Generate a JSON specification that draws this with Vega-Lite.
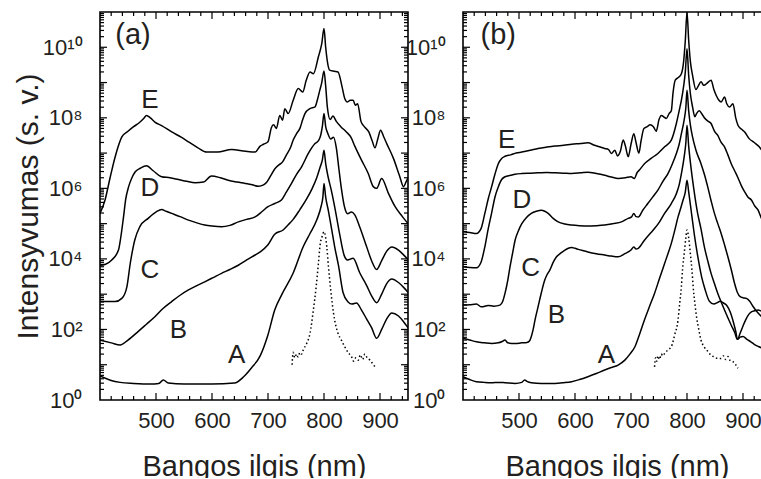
{
"$schema": "https://vega.github.io/schema/vega-lite/v6.json",
"background": "white",
"padding": {"left": 12, "top": 11, "right": -6, "bottom": -4},
"bounds": "flush",
"spacing": 55,
"config": {
 "font": "Liberation Sans",
 "view": {"stroke": "#000", "strokeWidth": 1.6},
 "axis": {"domain": false, "grid": false, "ticks": false, "labelColor": "#231f20", "titleColor": "#231f20", "labelFont": "Liberation Sans", "titleFont": "Liberation Sans"}
},
"datasets": {
"xt": [{"x":420},{"x":440},{"x":460},{"x":480},{"x":500},{"x":520},{"x":540},{"x":560},{"x":580},{"x":600},{"x":620},{"x":640},{"x":660},{"x":680},{"x":700},{"x":720},{"x":740},{"x":760},{"x":780},{"x":800},{"x":820},{"x":840},{"x":860},{"x":880},{"x":900},{"x":920},{"x":940}],
"yt": [{"y":2},{"y":3},{"y":4},{"y":5},{"y":6},{"y":7},{"y":8},{"y":9},{"y":10},{"y":20},{"y":30},{"y":40},{"y":50},{"y":60},{"y":70},{"y":80},{"y":90},{"y":100},{"y":200},{"y":300},{"y":400},{"y":500},{"y":600},{"y":700},{"y":800},{"y":900},{"y":1000},{"y":2000},{"y":3000},{"y":4000},{"y":5000},{"y":6000},{"y":7000},{"y":8000},{"y":9000},{"y":1e4},{"y":2e4},{"y":3e4},{"y":4e4},{"y":5e4},{"y":6e4},{"y":7e4},{"y":8e4},{"y":9e4},{"y":1e5},{"y":2e5},{"y":3e5},{"y":4e5},{"y":5e5},{"y":6e5},{"y":7e5},{"y":8e5},{"y":9e5},{"y":1e6},{"y":2e6},{"y":3e6},{"y":4e6},{"y":5e6},{"y":6e6},{"y":7e6},{"y":8e6},{"y":9e6},{"y":1e7},{"y":2e7},{"y":3e7},{"y":4e7},{"y":5e7},{"y":6e7},{"y":7e7},{"y":8e7},{"y":9e7},{"y":1e8},{"y":2e8},{"y":3e8},{"y":4e8},{"y":5e8},{"y":6e8},{"y":7e8},{"y":8e8},{"y":9e8},{"y":1e9},{"y":2e9},{"y":3e9},{"y":4e9},{"y":5e9},{"y":6e9},{"y":7e9},{"y":8e9},{"y":9e9},{"y":1e10},{"y":2e10},{"y":3e10},{"y":4e10},{"y":5e10},{"y":6e10},{"y":7e10},{"y":8e10},{"y":9e10}],
"a": [
{"s":"A","x":400,"v":4.79e0},{"s":"A","x":420,"v":3.55e0},{"s":"A","x":436,"v":3.16e0},{"s":"A","x":460,"v":2.95e0},{"s":"A","x":490,"v":2.82e0},{"s":"A","x":505,"v":2.95e0},{"s":"A","x":513,"v":3.72e0},{"s":"A","x":522,"v":3.02e0},{"s":"A","x":550,"v":2.82e0},{"s":"A","x":600,"v":2.82e0},{"s":"A","x":640,"v":3.02e0},{"s":"A","x":656,"v":4.47e0},{"s":"A","x":670,"v":7.94e0},{"s":"A","x":686,"v":1.78e1},{"s":"A","x":700,"v":7.08e1},{"s":"A","x":712,"v":3.55e2},{"s":"A","x":725,"v":1.0e3},{"s":"A","x":745,"v":3.98e3},{"s":"A","x":763,"v":2.24e4},{"s":"A","x":775,"v":5.25e4},{"s":"A","x":787,"v":1.26e5},{"s":"A","x":795,"v":3.16e5},{"s":"A","x":798,"v":5.62e5},{"s":"A","x":800,"v":1.38e6},{"s":"A","x":803,"v":5.62e5},{"s":"A","x":808,"v":2.24e5},{"s":"A","x":813,"v":7.94e4},{"s":"A","x":819,"v":2.24e4},{"s":"A","x":826,"v":6.31e3},{"s":"A","x":834,"v":1.12e3},{"s":"A","x":843,"v":6.03e2},{"s":"A","x":850,"v":5.25e2},{"s":"A","x":858,"v":5.62e2},{"s":"A","x":867,"v":3.55e2},{"s":"A","x":876,"v":2.0e2},{"s":"A","x":885,"v":1.12e2},{"s":"A","x":894,"v":5.62e1},{"s":"A","x":903,"v":1.0e2},{"s":"A","x":912,"v":2.0e2},{"s":"A","x":921,"v":2.95e2},{"s":"A","x":933,"v":2.4e2},{"s":"A","x":943,"v":1.58e2},{"s":"A","x":950,"v":1.12e2},
{"s":"B","x":400,"v":5.01e1},{"s":"B","x":420,"v":4.17e1},{"s":"B","x":436,"v":3.63e1},{"s":"B","x":450,"v":5.01e1},{"s":"B","x":468,"v":8.71e1},{"s":"B","x":483,"v":1.41e2},{"s":"B","x":498,"v":2.29e2},{"s":"B","x":513,"v":3.98e2},{"s":"B","x":528,"v":6.17e2},{"s":"B","x":543,"v":9.33e2},{"s":"B","x":558,"v":1.32e3},{"s":"B","x":573,"v":1.74e3},{"s":"B","x":587,"v":2.24e3},{"s":"B","x":602,"v":2.95e3},{"s":"B","x":617,"v":3.89e3},{"s":"B","x":632,"v":5.01e3},{"s":"B","x":647,"v":6.61e3},{"s":"B","x":662,"v":9.33e3},{"s":"B","x":677,"v":1.29e4},{"s":"B","x":686,"v":1.58e4},{"s":"B","x":700,"v":2.51e4},{"s":"B","x":712,"v":5.01e4},{"s":"B","x":727,"v":6.61e4},{"s":"B","x":735,"v":8.91e4},{"s":"B","x":745,"v":1.32e5},{"s":"B","x":757,"v":2.51e5},{"s":"B","x":769,"v":5.01e5},{"s":"B","x":779,"v":1.0e6},{"s":"B","x":787,"v":2.0e6},{"s":"B","x":793,"v":3.98e6},{"s":"B","x":797,"v":6.31e6},{"s":"B","x":800,"v":1.2e7},{"s":"B","x":803,"v":5.01e6},{"s":"B","x":807,"v":2.24e6},{"s":"B","x":813,"v":8.91e5},{"s":"B","x":820,"v":2.51e5},{"s":"B","x":828,"v":5.01e4},{"s":"B","x":836,"v":1.26e4},{"s":"B","x":842,"v":9.33e3},{"s":"B","x":852,"v":1.05e4},{"s":"B","x":864,"v":3.98e3},{"s":"B","x":876,"v":1.78e3},{"s":"B","x":885,"v":8.91e2},{"s":"B","x":894,"v":5.75e2},{"s":"B","x":903,"v":1.0e3},{"s":"B","x":912,"v":2.0e3},{"s":"B","x":921,"v":2.69e3},{"s":"B","x":933,"v":2.14e3},{"s":"B","x":943,"v":1.51e3},{"s":"B","x":950,"v":1.12e3},
{"s":"C","x":400,"v":6.17e2},{"s":"C","x":415,"v":6.17e2},{"s":"C","x":427,"v":6.17e2},{"s":"C","x":439,"v":7.59e2},{"s":"C","x":448,"v":1.62e3},{"s":"C","x":454,"v":7.41e3},{"s":"C","x":462,"v":3.39e4},{"s":"C","x":471,"v":8.13e4},{"s":"C","x":486,"v":1.41e5},{"s":"C","x":501,"v":2.19e5},{"s":"C","x":510,"v":2.51e5},{"s":"C","x":518,"v":2.24e5},{"s":"C","x":528,"v":1.95e5},{"s":"C","x":543,"v":1.58e5},{"s":"C","x":558,"v":1.26e5},{"s":"C","x":573,"v":1.05e5},{"s":"C","x":587,"v":9.12e4},{"s":"C","x":600,"v":8.51e4},{"s":"C","x":617,"v":8.13e4},{"s":"C","x":632,"v":8.91e4},{"s":"C","x":647,"v":1.12e5},{"s":"C","x":662,"v":1.32e5},{"s":"C","x":677,"v":1.55e5},{"s":"C","x":690,"v":2.24e5},{"s":"C","x":700,"v":3.02e5},{"s":"C","x":712,"v":3.72e5},{"s":"C","x":724,"v":4.68e5},{"s":"C","x":733,"v":7.94e5},{"s":"C","x":742,"v":1.38e6},{"s":"C","x":751,"v":2.51e6},{"s":"C","x":760,"v":4.07e6},{"s":"C","x":772,"v":9.77e6},{"s":"C","x":784,"v":1.86e7},{"s":"C","x":790,"v":2.24e7},{"s":"C","x":794,"v":3.16e7},{"s":"C","x":797,"v":5.62e7},{"s":"C","x":800,"v":1.32e8},{"s":"C","x":803,"v":5.62e7},{"s":"C","x":807,"v":3.55e7},{"s":"C","x":812,"v":2.51e7},{"s":"C","x":817,"v":2.82e7},{"s":"C","x":822,"v":1.41e7},{"s":"C","x":827,"v":3.16e6},{"s":"C","x":831,"v":1.0e6},{"s":"C","x":837,"v":2.82e5},{"s":"C","x":842,"v":1.91e5},{"s":"C","x":849,"v":2.14e5},{"s":"C","x":855,"v":1.78e5},{"s":"C","x":864,"v":7.94e4},{"s":"C","x":876,"v":2.24e4},{"s":"C","x":885,"v":8.91e3},{"s":"C","x":894,"v":5.01e3},{"s":"C","x":903,"v":8.91e3},{"s":"C","x":912,"v":1.66e4},{"s":"C","x":921,"v":2.19e4},{"s":"C","x":933,"v":1.78e4},{"s":"C","x":943,"v":1.26e4},{"s":"C","x":950,"v":9.55e3},
{"s":"D","x":400,"v":6.61e3},{"s":"D","x":410,"v":7.08e3},{"s":"D","x":421,"v":9.33e3},{"s":"D","x":433,"v":1.78e4},{"s":"D","x":437,"v":3.98e4},{"s":"D","x":442,"v":1.55e5},{"s":"D","x":446,"v":5.01e5},{"s":"D","x":451,"v":1.1e6},{"s":"D","x":457,"v":2.0e6},{"s":"D","x":463,"v":2.95e6},{"s":"D","x":472,"v":3.72e6},{"s":"D","x":483,"v":4.37e6},{"s":"D","x":495,"v":3.16e6},{"s":"D","x":510,"v":2.14e6},{"s":"D","x":525,"v":2.0e6},{"s":"D","x":540,"v":1.78e6},{"s":"D","x":555,"v":1.58e6},{"s":"D","x":570,"v":1.45e6},{"s":"D","x":585,"v":1.51e6},{"s":"D","x":599,"v":2.24e6},{"s":"D","x":615,"v":2.0e6},{"s":"D","x":629,"v":1.7e6},{"s":"D","x":645,"v":1.51e6},{"s":"D","x":659,"v":1.38e6},{"s":"D","x":672,"v":1.26e6},{"s":"D","x":683,"v":1.15e6},{"s":"D","x":692,"v":1.26e6},{"s":"D","x":698,"v":1.51e6},{"s":"D","x":707,"v":2.63e6},{"s":"D","x":712,"v":3.55e6},{"s":"D","x":719,"v":4.57e6},{"s":"D","x":726,"v":5.62e6},{"s":"D","x":733,"v":8.91e6},{"s":"D","x":740,"v":1.41e7},{"s":"D","x":745,"v":2.34e7},{"s":"D","x":751,"v":3.55e7},{"s":"D","x":757,"v":5.01e7},{"s":"D","x":762,"v":8.91e7},{"s":"D","x":766,"v":1.32e8},{"s":"D","x":775,"v":1.82e8},{"s":"D","x":784,"v":2.04e8},{"s":"D","x":788,"v":3.16e8},{"s":"D","x":792,"v":5.62e8},{"s":"D","x":796,"v":1.0e9},{"s":"D","x":800,"v":2.14e9},{"s":"D","x":803,"v":7.94e8},{"s":"D","x":806,"v":2.0e8},{"s":"D","x":811,"v":8.91e7},{"s":"D","x":816,"v":1.12e8},{"s":"D","x":822,"v":7.94e7},{"s":"D","x":830,"v":5.62e7},{"s":"D","x":840,"v":3.98e7},{"s":"D","x":848,"v":2.82e7},{"s":"D","x":855,"v":1.58e7},{"s":"D","x":867,"v":6.31e6},{"s":"D","x":879,"v":2.63e6},{"s":"D","x":888,"v":1.12e6},{"s":"D","x":894,"v":1.0e6},{"s":"D","x":903,"v":1.91e6},{"s":"D","x":915,"v":7.24e5},{"s":"D","x":927,"v":3.02e5},{"s":"D","x":940,"v":1.58e5},{"s":"D","x":950,"v":1.0e5},
{"s":"E","x":400,"v":1.95e5},{"s":"E","x":409,"v":4.68e5},{"s":"E","x":418,"v":2.0e6},{"s":"E","x":427,"v":7.76e6},{"s":"E","x":439,"v":2.88e7},{"s":"E","x":450,"v":4.17e7},{"s":"E","x":460,"v":5.62e7},{"s":"E","x":470,"v":7.24e7},{"s":"E","x":478,"v":9.55e7},{"s":"E","x":483,"v":1.17e8},{"s":"E","x":490,"v":1.0e8},{"s":"E","x":498,"v":7.59e7},{"s":"E","x":510,"v":6.03e7},{"s":"E","x":528,"v":3.98e7},{"s":"E","x":545,"v":2.82e7},{"s":"E","x":558,"v":2.09e7},{"s":"E","x":575,"v":1.41e7},{"s":"E","x":590,"v":1.07e7},{"s":"E","x":610,"v":1.07e7},{"s":"E","x":635,"v":1.26e7},{"s":"E","x":660,"v":1.12e7},{"s":"E","x":677,"v":1.07e7},{"s":"E","x":686,"v":1.58e7},{"s":"E","x":692,"v":1.78e7},{"s":"E","x":700,"v":2.09e7},{"s":"E","x":706,"v":5.25e7},{"s":"E","x":710,"v":6.31e7},{"s":"E","x":715,"v":5.01e7},{"s":"E","x":721,"v":1.17e8},{"s":"E","x":726,"v":8.51e7},{"s":"E","x":730,"v":1.82e8},{"s":"E","x":736,"v":1.32e8},{"s":"E","x":745,"v":3.16e8},{"s":"E","x":754,"v":6.76e8},{"s":"E","x":762,"v":5.37e8},{"s":"E","x":768,"v":1.12e9},{"s":"E","x":775,"v":2.0e9},{"s":"E","x":781,"v":1.78e9},{"s":"E","x":790,"v":5.37e9},{"s":"E","x":796,"v":1.26e10},{"s":"E","x":800,"v":3.39e10},{"s":"E","x":803,"v":1.0e10},{"s":"E","x":806,"v":3.98e9},{"s":"E","x":810,"v":2.24e9},{"s":"E","x":818,"v":2.09e9},{"s":"E","x":825,"v":2.0e9},{"s":"E","x":832,"v":7.94e8},{"s":"E","x":837,"v":3.55e8},{"s":"E","x":842,"v":2.82e8},{"s":"E","x":847,"v":3.16e8},{"s":"E","x":852,"v":3.16e8},{"s":"E","x":856,"v":2.29e8},{"s":"E","x":860,"v":2.51e8},{"s":"E","x":866,"v":7.94e7},{"s":"E","x":872,"v":5.62e7},{"s":"E","x":880,"v":3.98e7},{"s":"E","x":886,"v":2.24e7},{"s":"E","x":891,"v":1.41e7},{"s":"E","x":896,"v":2.51e7},{"s":"E","x":901,"v":4.47e7},{"s":"E","x":907,"v":2.82e7},{"s":"E","x":912,"v":1.86e7},{"s":"E","x":924,"v":7.08e6},{"s":"E","x":935,"v":2.24e6},{"s":"E","x":942,"v":1.12e6},{"s":"E","x":947,"v":1.58e6},{"s":"E","x":950,"v":2.0e6},
{"s":"dot","x":743,"v":1.0e1},{"s":"dot","x":745,"v":2.24e1},{"s":"dot","x":748,"v":1.58e1},{"s":"dot","x":751,"v":2.0e1},{"s":"dot","x":754,"v":1.66e1},{"s":"dot","x":757,"v":2.24e1},{"s":"dot","x":760,"v":2.0e1},{"s":"dot","x":763,"v":2.63e1},{"s":"dot","x":769,"v":3.98e1},{"s":"dot","x":775,"v":7.76e1},{"s":"dot","x":781,"v":3.55e2},{"s":"dot","x":786,"v":1.62e3},{"s":"dot","x":790,"v":7.41e3},{"s":"dot","x":793,"v":2.45e4},{"s":"dot","x":797,"v":4.47e4},{"s":"dot","x":800,"v":5.89e4},{"s":"dot","x":803,"v":3.98e4},{"s":"dot","x":805,"v":2.19e4},{"s":"dot","x":808,"v":6.03e3},{"s":"dot","x":812,"v":1.32e3},{"s":"dot","x":817,"v":2.88e2},{"s":"dot","x":825,"v":7.76e1},{"s":"dot","x":831,"v":5.01e1},{"s":"dot","x":837,"v":3.24e1},{"s":"dot","x":843,"v":2.24e1},{"s":"dot","x":849,"v":1.7e1},{"s":"dot","x":853,"v":1.26e1},{"s":"dot","x":857,"v":1.58e1},{"s":"dot","x":861,"v":1.35e1},{"s":"dot","x":865,"v":1.91e1},{"s":"dot","x":869,"v":1.41e1},{"s":"dot","x":873,"v":2.0e1},{"s":"dot","x":877,"v":1.58e1},{"s":"dot","x":882,"v":1.35e1},{"s":"dot","x":886,"v":1.12e1},{"s":"dot","x":891,"v":8.71e0}
],
"b": [
{"s":"A","x":400,"v":4.57e0},{"s":"A","x":412,"v":3.8e0},{"s":"A","x":424,"v":3.31e0},{"s":"A","x":438,"v":3.16e0},{"s":"A","x":451,"v":3.09e0},{"s":"A","x":463,"v":3.16e0},{"s":"A","x":475,"v":3.09e0},{"s":"A","x":493,"v":2.95e0},{"s":"A","x":505,"v":3.16e0},{"s":"A","x":510,"v":3.72e0},{"s":"A","x":515,"v":3.31e0},{"s":"A","x":522,"v":3.09e0},{"s":"A","x":540,"v":2.95e0},{"s":"A","x":564,"v":2.95e0},{"s":"A","x":580,"v":3.09e0},{"s":"A","x":594,"v":3.31e0},{"s":"A","x":608,"v":3.8e0},{"s":"A","x":623,"v":4.57e0},{"s":"A","x":638,"v":5.62e0},{"s":"A","x":653,"v":7.08e0},{"s":"A","x":665,"v":8.32e0},{"s":"A","x":677,"v":9.77e0},{"s":"A","x":689,"v":1.35e1},{"s":"A","x":698,"v":2.0e1},{"s":"A","x":707,"v":3.24e1},{"s":"A","x":715,"v":7.08e1},{"s":"A","x":724,"v":1.86e2},{"s":"A","x":733,"v":4.47e2},{"s":"A","x":742,"v":1.05e3},{"s":"A","x":751,"v":2.82e3},{"s":"A","x":760,"v":7.41e3},{"s":"A","x":766,"v":1.41e4},{"s":"A","x":772,"v":2.75e4},{"s":"A","x":778,"v":6.31e4},{"s":"A","x":784,"v":1.55e5},{"s":"A","x":789,"v":2.82e5},{"s":"A","x":793,"v":4.68e5},{"s":"A","x":797,"v":7.94e5},{"s":"A","x":800,"v":1.7e6},{"s":"A","x":803,"v":7.94e5},{"s":"A","x":808,"v":2.0e5},{"s":"A","x":813,"v":5.01e4},{"s":"A","x":820,"v":1.0e4},{"s":"A","x":826,"v":3.16e3},{"s":"A","x":832,"v":1.41e3},{"s":"A","x":840,"v":6.31e2},{"s":"A","x":848,"v":5.25e2},{"s":"A","x":854,"v":5.75e2},{"s":"A","x":859,"v":6.31e2},{"s":"A","x":865,"v":5.62e2},{"s":"A","x":871,"v":4.79e2},{"s":"A","x":877,"v":3.16e2},{"s":"A","x":883,"v":1.58e2},{"s":"A","x":887,"v":8.91e1},{"s":"A","x":890,"v":5.25e1},{"s":"A","x":895,"v":6.03e1},{"s":"A","x":900,"v":6.31e1},{"s":"A","x":907,"v":5.25e1},{"s":"A","x":914,"v":4.47e1},{"s":"A","x":920,"v":3.8e1},{"s":"A","x":927,"v":3.31e1},{"s":"A","x":933,"v":3.02e1},{"s":"A","x":946,"v":2.82e1},
{"s":"B","x":400,"v":5.62e1},{"s":"B","x":412,"v":5.01e1},{"s":"B","x":424,"v":4.47e1},{"s":"B","x":438,"v":4.17e1},{"s":"B","x":451,"v":3.98e1},{"s":"B","x":463,"v":4.17e1},{"s":"B","x":470,"v":4.57e1},{"s":"B","x":475,"v":5.01e1},{"s":"B","x":480,"v":4.17e1},{"s":"B","x":493,"v":3.98e1},{"s":"B","x":505,"v":4.17e1},{"s":"B","x":514,"v":4.27e1},{"s":"B","x":519,"v":4.79e1},{"s":"B","x":522,"v":6.31e1},{"s":"B","x":525,"v":9.55e1},{"s":"B","x":529,"v":2.0e2},{"s":"B","x":534,"v":4.37e2},{"s":"B","x":540,"v":1.12e3},{"s":"B","x":546,"v":2.51e3},{"s":"B","x":550,"v":3.55e3},{"s":"B","x":555,"v":4.79e3},{"s":"B","x":561,"v":7.94e3},{"s":"B","x":567,"v":1.15e4},{"s":"B","x":575,"v":1.48e4},{"s":"B","x":582,"v":1.78e4},{"s":"B","x":588,"v":2.0e4},{"s":"B","x":594,"v":2.09e4},{"s":"B","x":600,"v":2.0e4},{"s":"B","x":606,"v":1.86e4},{"s":"B","x":615,"v":1.7e4},{"s":"B","x":623,"v":1.58e4},{"s":"B","x":638,"v":1.41e4},{"s":"B","x":653,"v":1.29e4},{"s":"B","x":665,"v":1.2e4},{"s":"B","x":677,"v":1.15e4},{"s":"B","x":689,"v":1.41e4},{"s":"B","x":700,"v":1.78e4},{"s":"B","x":705,"v":2.19e4},{"s":"B","x":709,"v":1.91e4},{"s":"B","x":713,"v":2.0e4},{"s":"B","x":724,"v":3.39e4},{"s":"B","x":733,"v":5.01e4},{"s":"B","x":742,"v":7.24e4},{"s":"B","x":751,"v":1.12e5},{"s":"B","x":760,"v":1.95e5},{"s":"B","x":772,"v":3.72e5},{"s":"B","x":781,"v":7.08e5},{"s":"B","x":786,"v":1.26e6},{"s":"B","x":790,"v":2.63e6},{"s":"B","x":795,"v":7.94e6},{"s":"B","x":798,"v":2.0e7},{"s":"B","x":800,"v":6.17e7},{"s":"B","x":803,"v":1.58e7},{"s":"B","x":807,"v":4.07e6},{"s":"B","x":812,"v":1.0e6},{"s":"B","x":819,"v":1.95e5},{"s":"B","x":825,"v":7.08e4},{"s":"B","x":831,"v":2.19e4},{"s":"B","x":837,"v":8.91e3},{"s":"B","x":843,"v":3.89e3},{"s":"B","x":849,"v":2.0e3},{"s":"B","x":855,"v":1.05e3},{"s":"B","x":861,"v":6.03e2},{"s":"B","x":867,"v":3.55e2},{"s":"B","x":873,"v":2.14e2},{"s":"B","x":879,"v":1.32e2},{"s":"B","x":885,"v":8.32e1},{"s":"B","x":890,"v":5.25e1},{"s":"B","x":895,"v":7.94e1},{"s":"B","x":900,"v":1.26e2},{"s":"B","x":905,"v":1.91e2},{"s":"B","x":910,"v":2.63e2},{"s":"B","x":915,"v":3.16e2},{"s":"B","x":921,"v":3.39e2},{"s":"B","x":927,"v":3.55e2},{"s":"B","x":933,"v":3.31e2},{"s":"B","x":946,"v":3.02e2},
{"s":"C","x":400,"v":4.9e2},{"s":"C","x":412,"v":5.01e2},{"s":"C","x":424,"v":5.25e2},{"s":"C","x":433,"v":4.37e2},{"s":"C","x":445,"v":4.79e2},{"s":"C","x":455,"v":4.57e2},{"s":"C","x":466,"v":4.9e2},{"s":"C","x":471,"v":6.31e2},{"s":"C","x":475,"v":1.05e3},{"s":"C","x":480,"v":2.51e3},{"s":"C","x":484,"v":6.03e3},{"s":"C","x":489,"v":1.58e4},{"s":"C","x":493,"v":3.39e4},{"s":"C","x":499,"v":6.31e4},{"s":"C","x":505,"v":1.0e5},{"s":"C","x":513,"v":1.48e5},{"s":"C","x":522,"v":1.95e5},{"s":"C","x":531,"v":2.24e5},{"s":"C","x":540,"v":2.4e5},{"s":"C","x":546,"v":2.24e5},{"s":"C","x":552,"v":1.95e5},{"s":"C","x":561,"v":1.41e5},{"s":"C","x":570,"v":1.12e5},{"s":"C","x":582,"v":9.77e4},{"s":"C","x":594,"v":9.12e4},{"s":"C","x":608,"v":8.71e4},{"s":"C","x":623,"v":8.51e4},{"s":"C","x":638,"v":8.71e4},{"s":"C","x":653,"v":9.12e4},{"s":"C","x":668,"v":1.0e5},{"s":"C","x":683,"v":1.12e5},{"s":"C","x":695,"v":1.41e5},{"s":"C","x":701,"v":1.55e5},{"s":"C","x":705,"v":1.95e5},{"s":"C","x":709,"v":1.58e5},{"s":"C","x":713,"v":1.55e5},{"s":"C","x":721,"v":2.4e5},{"s":"C","x":730,"v":3.72e5},{"s":"C","x":739,"v":5.75e5},{"s":"C","x":748,"v":8.91e5},{"s":"C","x":757,"v":1.58e6},{"s":"C","x":766,"v":2.63e6},{"s":"C","x":774,"v":5.01e6},{"s":"C","x":781,"v":9.77e6},{"s":"C","x":786,"v":1.78e7},{"s":"C","x":790,"v":3.55e7},{"s":"C","x":795,"v":8.91e7},{"s":"C","x":798,"v":2.0e8},{"s":"C","x":800,"v":6.03e8},{"s":"C","x":803,"v":1.58e8},{"s":"C","x":806,"v":6.31e7},{"s":"C","x":810,"v":2.82e7},{"s":"C","x":816,"v":1.2e7},{"s":"C","x":825,"v":5.01e6},{"s":"C","x":831,"v":2.51e6},{"s":"C","x":837,"v":1.1e6},{"s":"C","x":843,"v":4.47e5},{"s":"C","x":849,"v":1.95e5},{"s":"C","x":855,"v":1.0e5},{"s":"C","x":861,"v":5.25e4},{"s":"C","x":867,"v":2.51e4},{"s":"C","x":873,"v":1.15e4},{"s":"C","x":879,"v":5.01e3},{"s":"C","x":885,"v":2.0e3},{"s":"C","x":890,"v":1.12e3},{"s":"C","x":895,"v":8.51e2},{"s":"C","x":900,"v":7.94e2},{"s":"C","x":906,"v":7.59e2},{"s":"C","x":912,"v":6.31e2},{"s":"C","x":918,"v":4.47e2},{"s":"C","x":925,"v":3.16e2},{"s":"C","x":932,"v":2.4e2},{"s":"C","x":946,"v":1.58e2},
{"s":"D","x":400,"v":6.03e3},{"s":"D","x":412,"v":5.75e3},{"s":"D","x":424,"v":5.62e3},{"s":"D","x":432,"v":7.94e3},{"s":"D","x":439,"v":2.19e4},{"s":"D","x":445,"v":7.08e4},{"s":"D","x":451,"v":1.95e5},{"s":"D","x":457,"v":5.62e5},{"s":"D","x":463,"v":1.1e6},{"s":"D","x":469,"v":1.78e6},{"s":"D","x":475,"v":2.14e6},{"s":"D","x":485,"v":2.34e6},{"s":"D","x":493,"v":2.51e6},{"s":"D","x":505,"v":2.63e6},{"s":"D","x":520,"v":2.69e6},{"s":"D","x":534,"v":2.75e6},{"s":"D","x":550,"v":2.82e6},{"s":"D","x":564,"v":2.75e6},{"s":"D","x":580,"v":2.69e6},{"s":"D","x":594,"v":2.63e6},{"s":"D","x":610,"v":2.75e6},{"s":"D","x":623,"v":2.88e6},{"s":"D","x":638,"v":2.63e6},{"s":"D","x":653,"v":2.34e6},{"s":"D","x":665,"v":2.09e6},{"s":"D","x":677,"v":1.91e6},{"s":"D","x":690,"v":2.0e6},{"s":"D","x":700,"v":2.14e6},{"s":"D","x":706,"v":1.91e6},{"s":"D","x":711,"v":2.82e6},{"s":"D","x":715,"v":3.31e6},{"s":"D","x":724,"v":5.01e6},{"s":"D","x":736,"v":7.08e6},{"s":"D","x":748,"v":9.77e6},{"s":"D","x":760,"v":1.51e7},{"s":"D","x":772,"v":2.34e7},{"s":"D","x":781,"v":6.92e7},{"s":"D","x":786,"v":1.58e8},{"s":"D","x":790,"v":3.16e8},{"s":"D","x":794,"v":7.94e8},{"s":"D","x":797,"v":2.0e9},{"s":"D","x":800,"v":9.12e9},{"s":"D","x":803,"v":1.58e9},{"s":"D","x":806,"v":4.9e8},{"s":"D","x":810,"v":2.0e8},{"s":"D","x":814,"v":1.07e8},{"s":"D","x":817,"v":1.32e8},{"s":"D","x":822,"v":1.58e8},{"s":"D","x":827,"v":1.26e8},{"s":"D","x":831,"v":1.0e8},{"s":"D","x":838,"v":7.94e7},{"s":"D","x":843,"v":6.92e7},{"s":"D","x":849,"v":4.17e7},{"s":"D","x":855,"v":3.16e7},{"s":"D","x":861,"v":2.0e7},{"s":"D","x":867,"v":1.51e7},{"s":"D","x":873,"v":8.91e6},{"s":"D","x":879,"v":5.01e6},{"s":"D","x":885,"v":3.16e6},{"s":"D","x":891,"v":2.0e6},{"s":"D","x":897,"v":1.2e6},{"s":"D","x":903,"v":7.94e5},{"s":"D","x":909,"v":5.62e5},{"s":"D","x":915,"v":4.68e5},{"s":"D","x":921,"v":3.16e5},{"s":"D","x":927,"v":2.4e5},{"s":"D","x":933,"v":1.41e5},{"s":"D","x":946,"v":7.08e4},
{"s":"E","x":400,"v":5.89e4},{"s":"E","x":412,"v":5.62e4},{"s":"E","x":424,"v":5.25e4},{"s":"E","x":432,"v":7.08e4},{"s":"E","x":439,"v":1.95e5},{"s":"E","x":445,"v":5.01e5},{"s":"E","x":451,"v":1.1e6},{"s":"E","x":457,"v":2.51e6},{"s":"E","x":463,"v":5.01e6},{"s":"E","x":469,"v":7.08e6},{"s":"E","x":475,"v":8.13e6},{"s":"E","x":485,"v":8.91e6},{"s":"E","x":495,"v":1.0e7},{"s":"E","x":505,"v":1.07e7},{"s":"E","x":520,"v":1.2e7},{"s":"E","x":534,"v":1.35e7},{"s":"E","x":550,"v":1.48e7},{"s":"E","x":564,"v":1.58e7},{"s":"E","x":580,"v":1.66e7},{"s":"E","x":594,"v":1.78e7},{"s":"E","x":610,"v":1.86e7},{"s":"E","x":623,"v":1.95e7},{"s":"E","x":635,"v":1.66e7},{"s":"E","x":645,"v":1.48e7},{"s":"E","x":653,"v":1.35e7},{"s":"E","x":660,"v":1.26e7},{"s":"E","x":665,"v":9.77e6},{"s":"E","x":671,"v":1.2e7},{"s":"E","x":676,"v":8.32e6},{"s":"E","x":681,"v":1.12e7},{"s":"E","x":686,"v":2.34e7},{"s":"E","x":690,"v":1.58e7},{"s":"E","x":695,"v":7.94e6},{"s":"E","x":700,"v":1.78e7},{"s":"E","x":705,"v":3.55e7},{"s":"E","x":709,"v":2.0e7},{"s":"E","x":714,"v":1.0e7},{"s":"E","x":718,"v":2.24e7},{"s":"E","x":723,"v":5.01e7},{"s":"E","x":729,"v":5.62e7},{"s":"E","x":734,"v":6.31e7},{"s":"E","x":740,"v":5.62e7},{"s":"E","x":745,"v":4.17e7},{"s":"E","x":750,"v":8.91e7},{"s":"E","x":754,"v":1.17e8},{"s":"E","x":759,"v":1.05e8},{"s":"E","x":763,"v":9.55e7},{"s":"E","x":768,"v":1.32e8},{"s":"E","x":772,"v":1.58e8},{"s":"E","x":775,"v":5.01e8},{"s":"E","x":779,"v":1.17e9},{"s":"E","x":785,"v":1.41e9},{"s":"E","x":790,"v":1.78e9},{"s":"E","x":794,"v":3.98e9},{"s":"E","x":797,"v":1.58e10},{"s":"E","x":800,"v":9.8e10},{"s":"E","x":803,"v":1.58e10},{"s":"E","x":806,"v":3.98e9},{"s":"E","x":810,"v":1.58e9},{"s":"E","x":816,"v":6.31e8},{"s":"E","x":820,"v":7.94e8},{"s":"E","x":825,"v":1.05e9},{"s":"E","x":830,"v":8.32e8},{"s":"E","x":837,"v":1.0e9},{"s":"E","x":843,"v":1.17e9},{"s":"E","x":848,"v":6.31e8},{"s":"E","x":852,"v":4.37e8},{"s":"E","x":857,"v":3.16e8},{"s":"E","x":861,"v":2.82e8},{"s":"E","x":867,"v":3.89e8},{"s":"E","x":871,"v":2.51e8},{"s":"E","x":876,"v":2.04e8},{"s":"E","x":882,"v":2.51e8},{"s":"E","x":887,"v":1.0e8},{"s":"E","x":891,"v":6.17e7},{"s":"E","x":897,"v":4.79e7},{"s":"E","x":903,"v":3.98e7},{"s":"E","x":911,"v":2.57e7},{"s":"E","x":920,"v":2.0e7},{"s":"E","x":929,"v":1.51e7},{"s":"E","x":935,"v":1.12e7},{"s":"E","x":946,"v":7.94e6},
{"s":"dot","x":742,"v":8.71e0},{"s":"dot","x":744,"v":1.58e1},{"s":"dot","x":746,"v":1.26e1},{"s":"dot","x":748,"v":1.78e1},{"s":"dot","x":751,"v":1.41e1},{"s":"dot","x":754,"v":2.0e1},{"s":"dot","x":757,"v":1.78e1},{"s":"dot","x":760,"v":2.09e1},{"s":"dot","x":766,"v":2.63e1},{"s":"dot","x":772,"v":3.24e1},{"s":"dot","x":778,"v":7.08e1},{"s":"dot","x":784,"v":1.86e2},{"s":"dot","x":787,"v":5.62e2},{"s":"dot","x":790,"v":1.62e3},{"s":"dot","x":792,"v":5.01e3},{"s":"dot","x":795,"v":1.41e4},{"s":"dot","x":798,"v":3.98e4},{"s":"dot","x":800,"v":6.61e4},{"s":"dot","x":803,"v":3.98e4},{"s":"dot","x":806,"v":1.41e4},{"s":"dot","x":809,"v":4.47e3},{"s":"dot","x":811,"v":1.62e3},{"s":"dot","x":814,"v":5.62e2},{"s":"dot","x":817,"v":2.29e2},{"s":"dot","x":821,"v":1.0e2},{"s":"dot","x":825,"v":5.01e1},{"s":"dot","x":831,"v":3.16e1},{"s":"dot","x":837,"v":2.4e1},{"s":"dot","x":843,"v":1.86e1},{"s":"dot","x":849,"v":1.66e1},{"s":"dot","x":855,"v":1.51e1},{"s":"dot","x":861,"v":1.51e1},{"s":"dot","x":865,"v":1.78e1},{"s":"dot","x":869,"v":1.41e1},{"s":"dot","x":873,"v":1.7e1},{"s":"dot","x":877,"v":1.32e1},{"s":"dot","x":882,"v":1.23e1},{"s":"dot","x":886,"v":1.05e1},{"s":"dot","x":891,"v":7.94e0}
],
"la": [{"t":"(a)","x":459,"v":2.19e10},{"t":"E","x":489,"v":3.16e8},{"t":"D","x":489,"v":1.0e6},{"t":"C","x":489,"v":4.79e3},{"t":"B","x":540,"v":95.5},{"t":"A","x":644,"v":18.6}],
"lb": [{"t":"(b)","x":463,"v":2.19e10},{"t":"E","x":478,"v":2.34e7},{"t":"D","x":505,"v":4.68e5},{"t":"C","x":521,"v":5.37e3},{"t":"B","x":567,"v":257},{"t":"A","x":656,"v":18.6}]
},
"hconcat": [
{
 "width": 308, "height": 388,
 "layer": [
  {
   "data": {"name": "a"},
   "transform": [{"filter": "datum.s != 'dot'"}],
   "mark": {"type": "line", "interpolate": "monotone", "stroke": "#000", "strokeWidth": 1.5, "clip": true},
   "encoding": {
    "x": {"field": "x", "type": "quantitative", "scale": {"domain": [400, 950], "nice": false, "zero": false},
     "axis": {"orient": "bottom", "values": [500,600,700,800,900], "format": "d", "ticks": false,
      "labelPadding": 10, "labelFontSize": 22, "labelOverlap": false, "labelFlush": false, "labelBound": false,
      "title": "Bangos ilgis (nm)", "titleFontSize": 29, "titleFontWeight": "normal", "titlePadding": 12, "minExtent": 40, "maxExtent": 40}},
    "y": {"field": "v", "type": "quantitative", "scale": {"type": "log", "domain": [1, 1e11], "nice": false},
     "axis": {"orient": "left", "values": [1,100,1e4,1e6,1e8,1e10],
      "labelExpr": "'10' + ['⁰','¹','²','³','⁴','⁵','⁶','⁷','⁸','⁹','¹⁰'][round(log(datum.value)/LN10)]",
      "ticks": false, "labelPadding": 18, "labelFontSize": 22, "labelOverlap": false, "labelFlush": false, "labelBound": false,
      "title": "Intensyvumas (s. v.)", "titleFontSize": 30, "titleFontWeight": "normal", "titlePadding": 12, "minExtent": 45, "maxExtent": 45}},
    "detail": {"field": "s"}
   }
  },
  {
   "data": {"name": "a"},
   "transform": [{"filter": "datum.s == 'dot'"}],
   "mark": {"type": "line", "interpolate": "monotone", "stroke": "#000", "strokeWidth": 1.5, "strokeDash": [1.5, 2.5], "clip": true},
   "encoding": {"x": {"field": "x", "type": "quantitative"}, "y": {"field": "v", "type": "quantitative"}}
  },
  {
   "data": {"name": "la"},
   "mark": {"type": "text", "font": "Liberation Sans", "color": "#231f20", "align": "center", "baseline": "middle"},
   "encoding": {
    "x": {"field": "x", "type": "quantitative"},
    "y": {"field": "v", "type": "quantitative"},
    "text": {"field": "t"},
    "size": {"condition": {"test": "length(datum.t) > 1", "value": 29}, "value": 26}
   }
  },
  {"data": {"name": "xt"}, "transform": [{"filter": "datum.x % 100 == 0"}],
   "mark": {"type": "tick", "orient": "vertical", "color": "#000", "opacity": 1, "thickness": 1.2, "size": 7, "yOffset": -3.5},
   "encoding": {"x": {"field": "x", "type": "quantitative"}, "y": {"datum": 1, "type": "quantitative"}}},
  {"data": {"name": "xt"}, "transform": [{"filter": "datum.x % 100 != 0"}],
   "mark": {"type": "tick", "orient": "vertical", "color": "#000", "opacity": 1, "thickness": 1.2, "size": 4, "yOffset": -2},
   "encoding": {"x": {"field": "x", "type": "quantitative"}, "y": {"datum": 1, "type": "quantitative"}}},
  {"data": {"name": "xt"}, "transform": [{"filter": "datum.x % 100 == 0"}],
   "mark": {"type": "tick", "orient": "vertical", "color": "#000", "opacity": 1, "thickness": 1.2, "size": 7, "yOffset": 3.5},
   "encoding": {"x": {"field": "x", "type": "quantitative"}, "y": {"datum": 1e11, "type": "quantitative"}}},
  {"data": {"name": "xt"}, "transform": [{"filter": "datum.x % 100 != 0"}],
   "mark": {"type": "tick", "orient": "vertical", "color": "#000", "opacity": 1, "thickness": 1.2, "size": 4, "yOffset": 2},
   "encoding": {"x": {"field": "x", "type": "quantitative"}, "y": {"datum": 1e11, "type": "quantitative"}}},
  {"data": {"name": "yt"}, "transform": [{"filter": "abs(log(datum.y)/LN10 - round(log(datum.y)/LN10)) < 0.01"}],
   "mark": {"type": "tick", "orient": "horizontal", "color": "#000", "opacity": 1, "thickness": 1.2, "size": 7, "xOffset": 3.5},
   "encoding": {"y": {"field": "y", "type": "quantitative"}, "x": {"datum": 400, "type": "quantitative"}}},
  {"data": {"name": "yt"}, "transform": [{"filter": "abs(log(datum.y)/LN10 - round(log(datum.y)/LN10)) >= 0.01"}],
   "mark": {"type": "tick", "orient": "horizontal", "color": "#000", "opacity": 1, "thickness": 1.2, "size": 4, "xOffset": 2},
   "encoding": {"y": {"field": "y", "type": "quantitative"}, "x": {"datum": 400, "type": "quantitative"}}},
  {"data": {"name": "yt"}, "transform": [{"filter": "abs(log(datum.y)/LN10 - round(log(datum.y)/LN10)) < 0.01"}],
   "mark": {"type": "tick", "orient": "horizontal", "color": "#000", "opacity": 1, "thickness": 1.2, "size": 7, "xOffset": -3.5},
   "encoding": {"y": {"field": "y", "type": "quantitative"}, "x": {"datum": 950, "type": "quantitative"}}},
  {"data": {"name": "yt"}, "transform": [{"filter": "abs(log(datum.y)/LN10 - round(log(datum.y)/LN10)) >= 0.01"}],
   "mark": {"type": "tick", "orient": "horizontal", "color": "#000", "opacity": 1, "thickness": 1.2, "size": 4, "xOffset": -2},
   "encoding": {"y": {"field": "y", "type": "quantitative"}, "x": {"datum": 950, "type": "quantitative"}}}
 ]
},
{
 "width": 308, "height": 388,
 "layer": [
  {
   "data": {"name": "b"},
   "transform": [{"filter": "datum.s != 'dot'"}],
   "mark": {"type": "line", "interpolate": "monotone", "stroke": "#000", "strokeWidth": 1.5, "clip": true},
   "encoding": {
    "x": {"field": "x", "type": "quantitative", "scale": {"domain": [400, 950], "nice": false, "zero": false},
     "axis": {"orient": "bottom", "values": [500,600,700,800,900], "format": "d", "ticks": false,
      "labelPadding": 10, "labelFontSize": 22, "labelOverlap": false, "labelFlush": false, "labelBound": false,
      "title": "Bangos ilgis (nm)", "titleFontSize": 29, "titleFontWeight": "normal", "titlePadding": 12, "minExtent": 40, "maxExtent": 40}},
    "y": {"field": "v", "type": "quantitative", "scale": {"type": "log", "domain": [1, 1e11], "nice": false},
     "axis": {"orient": "left", "values": [1,100,1e4,1e6,1e8,1e10],
      "labelExpr": "'10' + ['⁰','¹','²','³','⁴','⁵','⁶','⁷','⁸','⁹','¹⁰'][round(log(datum.value)/LN10)]",
      "ticks": false, "labelPadding": 18, "labelFontSize": 22, "labelOverlap": false, "labelFlush": false, "labelBound": false,
      "title": null, "minExtent": 45, "maxExtent": 45}},
    "detail": {"field": "s"}
   }
  },
  {
   "data": {"name": "b"},
   "transform": [{"filter": "datum.s == 'dot'"}],
   "mark": {"type": "line", "interpolate": "monotone", "stroke": "#000", "strokeWidth": 1.5, "strokeDash": [1.5, 2.5], "clip": true},
   "encoding": {"x": {"field": "x", "type": "quantitative"}, "y": {"field": "v", "type": "quantitative"}}
  },
  {
   "data": {"name": "lb"},
   "mark": {"type": "text", "font": "Liberation Sans", "color": "#231f20", "align": "center", "baseline": "middle"},
   "encoding": {
    "x": {"field": "x", "type": "quantitative"},
    "y": {"field": "v", "type": "quantitative"},
    "text": {"field": "t"},
    "size": {"condition": {"test": "length(datum.t) > 1", "value": 29}, "value": 26}
   }
  },
  {"data": {"name": "xt"}, "transform": [{"filter": "datum.x % 100 == 0"}],
   "mark": {"type": "tick", "orient": "vertical", "color": "#000", "opacity": 1, "thickness": 1.2, "size": 7, "yOffset": -3.5},
   "encoding": {"x": {"field": "x", "type": "quantitative"}, "y": {"datum": 1, "type": "quantitative"}}},
  {"data": {"name": "xt"}, "transform": [{"filter": "datum.x % 100 != 0"}],
   "mark": {"type": "tick", "orient": "vertical", "color": "#000", "opacity": 1, "thickness": 1.2, "size": 4, "yOffset": -2},
   "encoding": {"x": {"field": "x", "type": "quantitative"}, "y": {"datum": 1, "type": "quantitative"}}},
  {"data": {"name": "xt"}, "transform": [{"filter": "datum.x % 100 == 0"}],
   "mark": {"type": "tick", "orient": "vertical", "color": "#000", "opacity": 1, "thickness": 1.2, "size": 7, "yOffset": 3.5},
   "encoding": {"x": {"field": "x", "type": "quantitative"}, "y": {"datum": 1e11, "type": "quantitative"}}},
  {"data": {"name": "xt"}, "transform": [{"filter": "datum.x % 100 != 0"}],
   "mark": {"type": "tick", "orient": "vertical", "color": "#000", "opacity": 1, "thickness": 1.2, "size": 4, "yOffset": 2},
   "encoding": {"x": {"field": "x", "type": "quantitative"}, "y": {"datum": 1e11, "type": "quantitative"}}},
  {"data": {"name": "yt"}, "transform": [{"filter": "abs(log(datum.y)/LN10 - round(log(datum.y)/LN10)) < 0.01"}],
   "mark": {"type": "tick", "orient": "horizontal", "color": "#000", "opacity": 1, "thickness": 1.2, "size": 7, "xOffset": 3.5},
   "encoding": {"y": {"field": "y", "type": "quantitative"}, "x": {"datum": 400, "type": "quantitative"}}},
  {"data": {"name": "yt"}, "transform": [{"filter": "abs(log(datum.y)/LN10 - round(log(datum.y)/LN10)) >= 0.01"}],
   "mark": {"type": "tick", "orient": "horizontal", "color": "#000", "opacity": 1, "thickness": 1.2, "size": 4, "xOffset": 2},
   "encoding": {"y": {"field": "y", "type": "quantitative"}, "x": {"datum": 400, "type": "quantitative"}}},
  {"data": {"name": "yt"}, "transform": [{"filter": "abs(log(datum.y)/LN10 - round(log(datum.y)/LN10)) < 0.01"}],
   "mark": {"type": "tick", "orient": "horizontal", "color": "#000", "opacity": 1, "thickness": 1.2, "size": 7, "xOffset": -3.5},
   "encoding": {"y": {"field": "y", "type": "quantitative"}, "x": {"datum": 950, "type": "quantitative"}}},
  {"data": {"name": "yt"}, "transform": [{"filter": "abs(log(datum.y)/LN10 - round(log(datum.y)/LN10)) >= 0.01"}],
   "mark": {"type": "tick", "orient": "horizontal", "color": "#000", "opacity": 1, "thickness": 1.2, "size": 4, "xOffset": -2},
   "encoding": {"y": {"field": "y", "type": "quantitative"}, "x": {"datum": 950, "type": "quantitative"}}}
 ]
}
]
}
